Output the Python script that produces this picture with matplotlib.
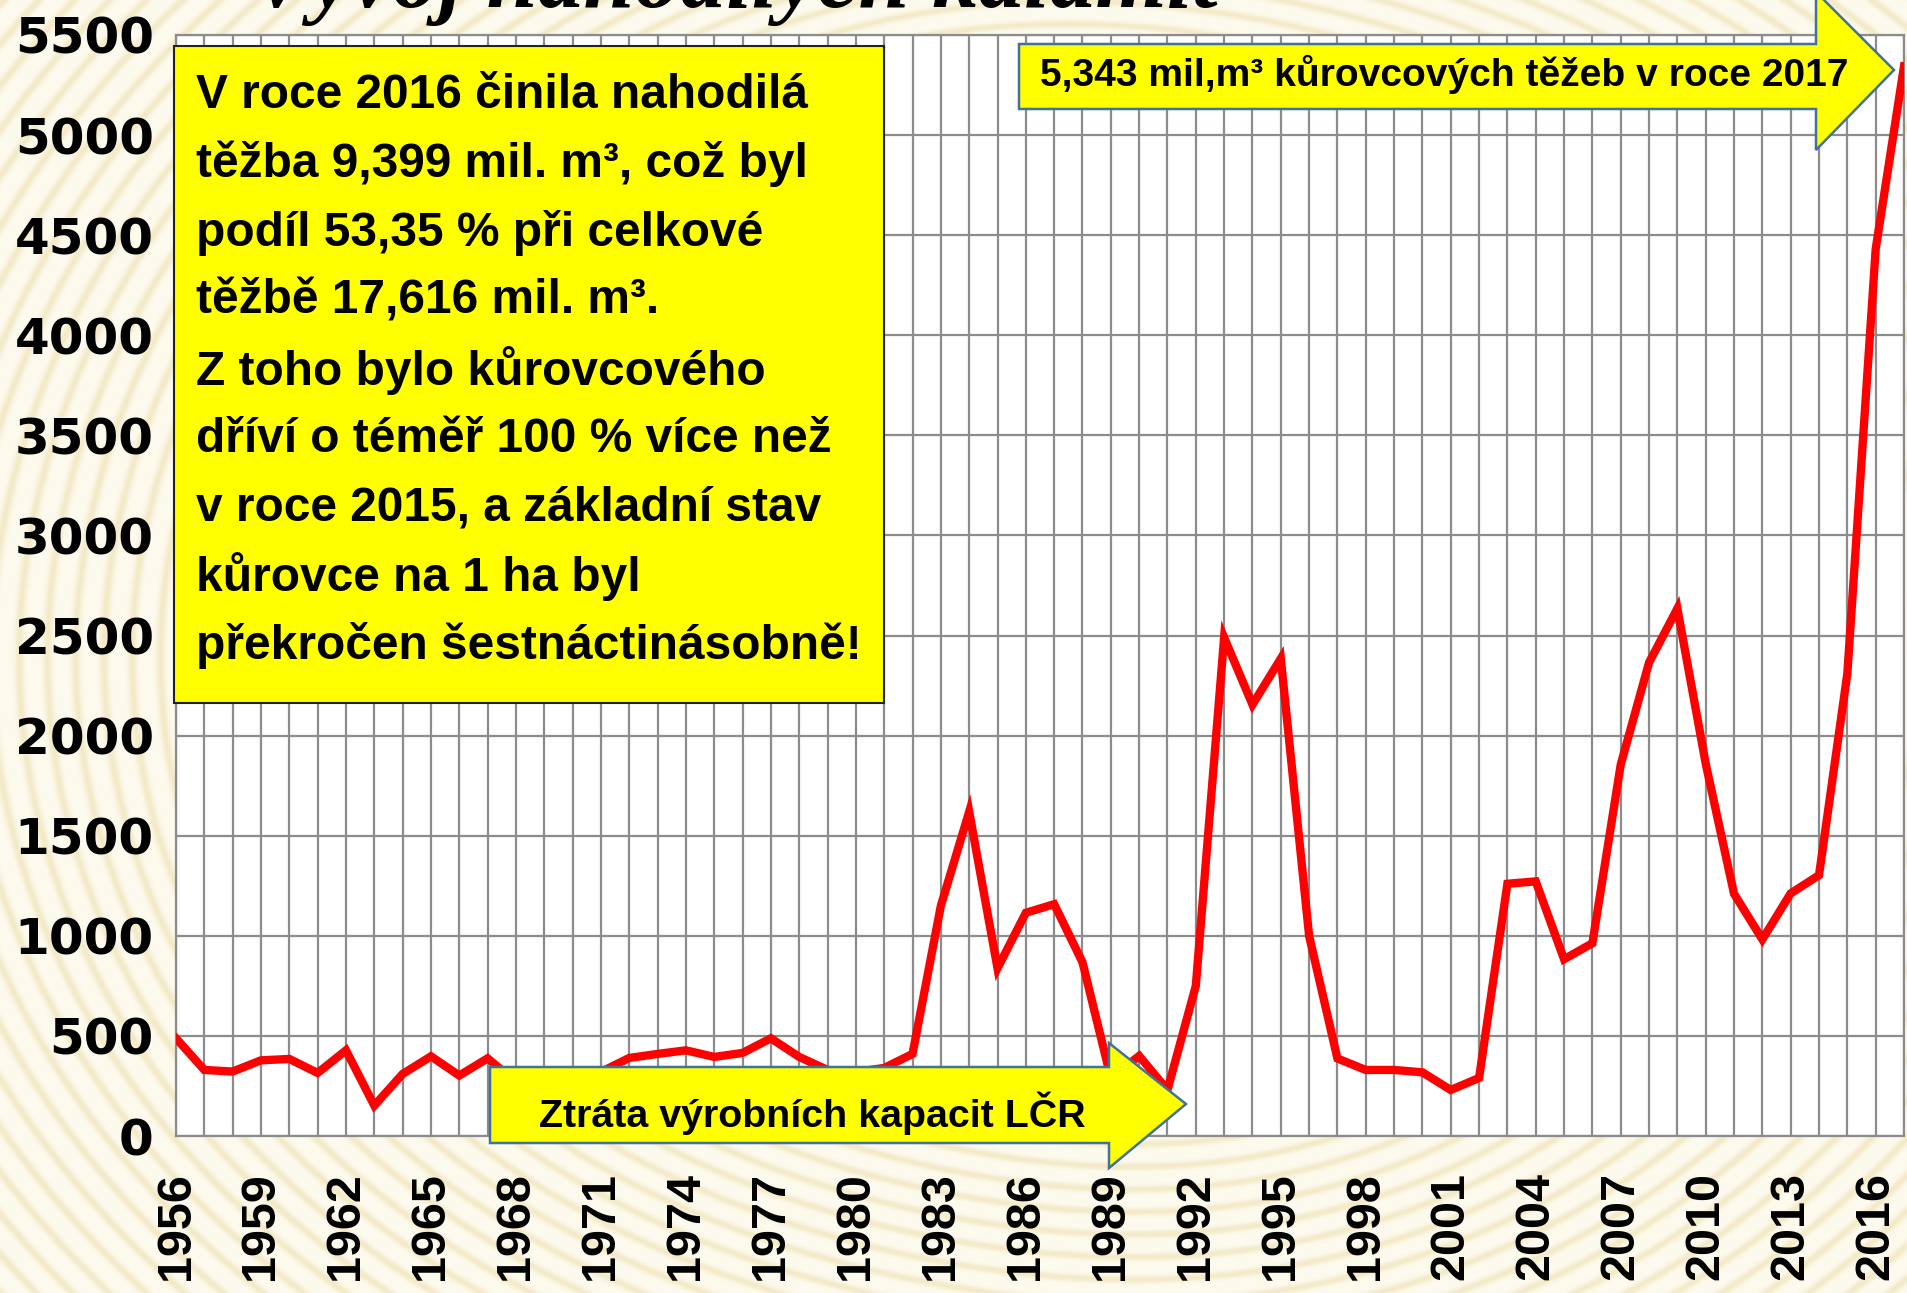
import numpy as np
import matplotlib
matplotlib.use("Agg")
import matplotlib.pyplot as plt
from matplotlib import font_manager
from matplotlib.patches import Polygon, Rectangle

# --- data (tis. m3 kurovcovych tezeb) ---
years = list(range(1956, 2018))
values = [488, 330, 322, 378, 385, 315, 428, 152, 310, 398,
          302, 388, 270, 300, 290, 320, 390, 410, 428, 395,
          415, 488, 395, 330, 320, 340, 410, 1150, 1620, 838,
          1115, 1158, 868, 290, 400, 230, 750, 2490, 2155, 2385,
          1000, 387, 330, 330, 318, 230, 290, 1260, 1272, 883,
          963, 1855, 2365, 2635, 1860, 1210, 982, 1212, 1303, 2310,
          4430, 5343]
yticks = list(range(0, 5501, 500))
xtick_years = list(range(1956, 2017, 3))

title = "Vývoj nahodilých kalamit"
box_lines = ["V roce 2016 činila nahodilá",
             "těžba 9,399 mil. m³, což byl",
             "podíl 53,35 % při celkové",
             "těžbě 17,616 mil. m³.",
             "Z toho bylo kůrovcového",
             "dříví o téměř 100 % více než",
             "v roce 2015, a základní stav",
             "kůrovce na 1 ha byl",
             "překročen šestnáctinásobně!"]
top_arrow_text = "5,343 mil,m³ kůrovcových těžeb v roce 2017"
low_arrow_text = "Ztráta výrobních kapacit LČR"

W, H = 1907, 1293

names = {f.name for f in font_manager.fontManager.ttflist}
narrow = "Liberation Sans"
for cand in ["Liberation Sans Narrow", "Arial Narrow", "DejaVu Sans Condensed"]:
    if cand in names:
        narrow = cand
        break


def fx(px):
    return px / W


def fy(py):
    return 1 - py / H


fig = plt.figure(figsize=(W / 100, H / 100), dpi=100)

# background texture (decoration only)
bg = fig.add_axes([0, 0, 1, 1], zorder=-10)
yy, xx = np.mgrid[0:H:2, 0:W:2]
ang = np.arctan2(yy - 640, xx - 1100)
r = np.hypot(xx - 1100, (yy - 640) * 1.25)
t = 0.5 + 0.5 * np.sin(r / 4.5 + 1.5 * np.sin(ang * 4))
c1 = np.array([253, 250, 238]) / 255
c2 = np.array([240, 228, 185]) / 255
img = c1 + (c2 - c1) * (t[..., None] ** 4) * 0.75
bg.imshow(img, aspect="auto", extent=[0, 1, 0, 1])
bg.axis("off")

ax = fig.add_axes([fx(176), fy(1136), fx(1904) - fx(176), fy(35) - fy(1136)])
ax.set_facecolor("white")
ax.plot(years, values, color="#FF0000", lw=6, solid_joinstyle="miter", zorder=3)
ax.set_xlim(1956, 2017)
ax.set_ylim(0, 5500)
ax.set_yticks(yticks)
ax.set_yticklabels([str(v) for v in yticks], fontsize=36, fontweight="bold",
                   family="DejaVu Sans")
ax.set_xticks(xtick_years)
ax.set_xticklabels([str(v) for v in xtick_years], rotation=90, fontsize=35,
                   fontweight="bold", family="Liberation Sans", va="top")
ax.set_xticks(years, minor=True)
ax.tick_params(length=0, which="both")
ax.tick_params(axis="y", pad=16)
ax.tick_params(axis="x", pad=26)
ax.grid(True, which="both", axis="x", color="#8C8C8C", lw=1.6)
ax.grid(True, which="major", axis="y", color="#8C8C8C", lw=1.6)
for s in ax.spines.values():
    s.set_color("#8C8C8C")
    s.set_linewidth(1.6)

# partially visible title at the top
fig.text(fx(250), fy(7), title, family="Liberation Serif", fontweight="bold",
         style="italic", fontsize=66, va="baseline", ha="left", color="black")

# yellow text box
fig.add_artist(Rectangle((fx(174), fy(703)), fx(884) - fx(174), fy(46) - fy(703),
                         transform=fig.transFigure, facecolor="#FFFF00",
                         edgecolor="#222222", lw=1.5, zorder=5))
box_texts = []
for i, line in enumerate(box_lines):
    box_texts.append(fig.text(fx(196), fy(95 + i * 68.8), line, family=narrow,
                              fontweight="bold", fontsize=36, va="center",
                              ha="left", zorder=6))


def arrow(x0, x1, tip, ytop, ybot, hup, hdown):
    pts = [(x0, ytop), (x1, ytop), (x1, hup), (tip[0], tip[1]), (x1, hdown),
           (x1, ybot), (x0, ybot)]
    return Polygon([(fx(a), fy(b)) for a, b in pts], closed=True,
                   transform=fig.transFigure, facecolor="#FFFF00",
                   edgecolor="#41719C", lw=1.8, zorder=5)


fig.add_artist(arrow(1019, 1816, (1894, 70), 44, 109, -8, 150))
top_t = fig.text(fx(1444), fy(74), top_arrow_text, family=narrow, fontweight="bold",
                 fontsize=30, va="center", ha="center", zorder=6)

fig.add_artist(arrow(490, 1109, (1186, 1104), 1067, 1143, 1043, 1168))
low_t = fig.text(fx(812), fy(1113), low_arrow_text, family=narrow, fontweight="bold",
                 fontsize=30, va="center", ha="center", zorder=6)

# fit the narrow texts to the widths seen in the original
fig.canvas.draw()
rend = fig.canvas.get_renderer()
k = 665 / box_texts[-1].get_window_extent(rend).width
for t_ in box_texts:
    t_.set_fontsize(36 * k)
top_t.set_fontsize(30 * 809 / top_t.get_window_extent(rend).width)
low_t.set_fontsize(30 * 547 / low_t.get_window_extent(rend).width)

fig.savefig("out.png", dpi=100)
